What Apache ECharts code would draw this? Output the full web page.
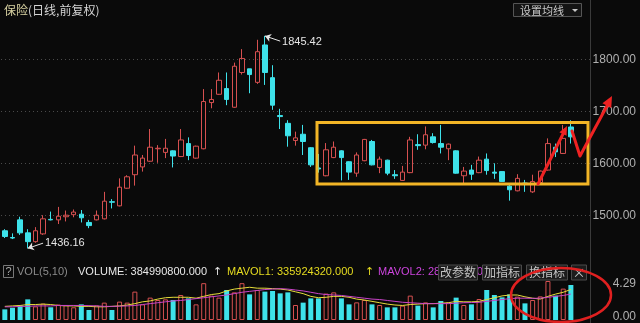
<!DOCTYPE html>
<html><head><meta charset="utf-8">
<script src="https://cdn.jsdelivr.net/npm/echarts@6/dist/echarts.min.js"></script>
<style>html,body{margin:0;padding:0;background:#0a0a0a}#c{width:640px;height:323px}</style>
</head><body><div id="c"></div>
<script>
// ---- data ----
const categories = Array.from({length: 77}, (_, i) => 'D' + (i + 1));
const opens  = [1470,1457,1491,1466,1449,1464,1492,1491,1497,1501,1502,1486,1491,1493,1526,1518,1552,1578,1593,1604,1628,1621,1624,1613,1638,1610,1628,1717,1733,1744,1708,1775,1782,1756,1828,1765,1692,1677,1644,1656,1630,1591,1576,1611,1624,1603,1581,1605,1642,1592,1606,1578,1567,1582,1636,1635,1651,1638,1628,1624,1576,1587,1582,1608,1583,1584,1556,1547,1562,1545,1563,1587,1631,1619,1670];
const closes = [1459,1456,1466,1449,1470,1493,1491,1498,1500,1506,1495,1480,1500,1527,1525,1554,1574,1616,1610,1631,1629,1629,1614,1645,1615,1633,1719,1723,1760,1723,1787,1802,1771,1815,1775,1712,1690,1653,1649,1642,1597,1589,1626,1631,1611,1583,1616,1646,1597,1608,1581,1576,1583,1645,1634,1655,1640,1631,1637,1581,1585,1579,1606,1586,1581,1565,1549,1571,1561,1565,1585,1638,1622,1648,1651];
const lows   = [1456,1454,1462,1436.16,1447,1462,1490,1483,1488,1496,1486,1475,1490,1492,1513,1517,1551,1557,1584,1603,1601,1610,1592,1612,1606,1609,1627,1706,1732,1712,1707,1771,1735,1753,1751,1703,1666,1632,1634,1616,1593,1582,1575,1610,1567,1568,1574,1604,1596,1581,1577,1570,1566,1581,1626,1627,1638,1619,1606,1580,1560,1568,1581,1578,1570,1564,1528,1546,1545,1543,1562,1586,1612,1618,1638];
const highs  = [1473,1465,1497,1473,1477,1500,1507,1516,1509,1511,1510,1491,1509,1545,1531,1571,1577,1634,1616,1666,1635,1647,1625,1666,1650,1634,1743,1743,1775,1775,1794,1820,1782,1838,1845.42,1789,1705,1683,1661,1674,1631,1618,1639,1642,1625,1604,1621,1647,1645,1613,1607,1587,1595,1651,1656,1671,1658,1674,1638,1625,1593,1597,1613,1619,1600,1585,1558,1579,1568,1578,1586,1648,1638,1674,1683];
// volume in 1e8 shares
const volumes = [1.17,1.35,1.6,2.27,1.5,1.8,1.4,1.7,1.65,1.4,1.72,1.1,1.6,1.91,1.1,2.02,1.91,3.12,1.72,2.46,2.2,2.27,2.2,2.75,2.38,1.72,4.05,2.68,2.46,3.3,3.04,4.05,2.82,3.3,3.12,3.19,2.93,3.04,1.65,1.91,2.38,2.38,2.9,3.04,2.38,1.72,1.94,2.2,1.72,1.65,1.39,1.39,1.58,2.68,1.58,1.94,1.39,2.09,1.94,2.46,1.65,1.72,2.31,3.3,2.75,2.49,2.82,2.57,1.83,2.2,2.6,4.29,2.68,3.45,3.85];
const mavol1 = [1.5,1.55,1.6,1.7,1.7,1.75,1.7,1.6,1.55,1.55,1.5,1.5,1.45,1.45,1.5,1.55,1.65,1.8,2.0,2.1,2.3,2.45,2.5,2.5,2.5,2.4,2.6,2.8,2.9,3.2,3.4,3.5,3.6,3.5,3.5,3.45,3.4,3.3,3.1,2.9,2.6,2.45,2.5,2.6,2.6,2.5,2.3,2.2,2.05,1.9,1.75,1.65,1.6,1.7,1.75,1.8,1.8,1.85,1.9,2.05,2.0,2.0,2.05,2.25,2.45,2.65,2.75,2.75,2.55,2.4,2.3,2.6,2.85,3.05,3.36];
const mavol2 = [1.45,1.45,1.5,1.5,1.55,1.55,1.55,1.6,1.6,1.6,1.6,1.58,1.55,1.5,1.5,1.52,1.55,1.6,1.7,1.8,1.9,2.0,2.1,2.15,2.25,2.35,2.45,2.55,2.65,2.75,2.9,3.05,3.15,3.25,3.35,3.4,3.45,3.4,3.3,3.2,3.05,2.9,2.8,2.75,2.7,2.6,2.5,2.4,2.3,2.25,2.15,2.05,1.95,1.9,1.85,1.8,1.8,1.8,1.8,1.85,1.9,1.92,1.95,2.05,2.15,2.25,2.35,2.4,2.4,2.38,2.4,2.5,2.6,2.7,2.85];
const priceTicks = {min: 1400, max: 1900, step: 100};
const volTicks = {min: 0, max: 4.29};
const highIdx = 34, lowIdx = 3;

// ---- styles ----
const BG = '#0a0a0a', RED = '#d65050', CYAN = '#3ee2ea';
const LATIN = '"Liberation Sans", Arial, sans-serif';
const CJK = '"Noto Sans CJK SC", "Liberation Sans", sans-serif';

const kData = opens.map((o, i) => [o, closes[i], lows[i], highs[i]]);
const volData = volumes.map((v, i) => ({
  value: v,
  itemStyle: closes[i] >= opens[i]
    ? {color: 'transparent', borderColor: RED, borderWidth: 1}
    : {color: CYAN}
}));

function arrowHead(tip, from, len, w) {
  const dx = tip[0] - from[0], dy = tip[1] - from[1];
  const L = Math.hypot(dx, dy), ux = dx / L, uy = dy / L;
  const bx = tip[0] - ux * len, by = tip[1] - uy * len;
  return [tip, [bx - uy * w, by + ux * w], [bx + uy * w, by - ux * w]];
}
function btn(x, w, label, fs) {
  return [
    {type: 'rect', shape: {x: x, y: 265, width: w, height: 15}, style: {fill: '#1c1c1c', stroke: '#4a4a4a', lineWidth: 1}, z: 20},
    {type: 'text', x: x + w / 2, y: 272.5, style: {text: label, fill: '#c4c4c4', font: fs + 'px ' + CJK, align: 'center', verticalAlign: 'middle'}, z: 21}
  ];
}

const chart = echarts.init(document.getElementById('c'), null, {renderer: 'canvas'});
chart.setOption({
  backgroundColor: BG,
  animation: false,
  grid: [
    {left: 1, right: 50, top: 7.6, height: 259.5},
    {left: 1, right: 50, top: 281, height: 39}
  ],
  xAxis: [
    {type: 'category', data: categories, gridIndex: 0, show: false, boundaryGap: true},
    {type: 'category', data: categories, gridIndex: 1, show: false, boundaryGap: true}
  ],
  yAxis: [
    {type: 'value', gridIndex: 0, position: 'right', min: priceTicks.min, max: priceTicks.max, interval: priceTicks.step,
     axisLine: {show: true, lineStyle: {color: '#3a3a3a'}}, axisTick: {show: false},
     axisLabel: {color: '#b0b0b0', fontSize: 12, fontFamily: LATIN, align: 'right', margin: 46,
                 showMinLabel: false, showMaxLabel: false, formatter: v => v.toFixed(2)},
     splitLine: {show: true, showMinLine: false, showMaxLine: false, lineStyle: {color: '#4a4a4a', type: [1, 3], width: 1}}},
    {type: 'value', gridIndex: 1, position: 'right', min: volTicks.min, max: volTicks.max, interval: volTicks.max,
     axisLine: {show: true, lineStyle: {color: '#3a3a3a'}}, axisTick: {show: false}, splitLine: {show: false},
     axisLabel: {color: '#b0b0b0', fontSize: 12, fontFamily: LATIN, align: 'right', margin: 46,
                 formatter: v => (v === 0 ? '{b|' : '{t|') + v.toFixed(2) + '}',
                 rich: {b: {padding: [0, 0, 6, 0], color: '#b0b0b0', fontSize: 12, fontFamily: LATIN},
                        t: {padding: [6, 0, 0, 0], color: '#b0b0b0', fontSize: 12, fontFamily: LATIN}}}}
  ],
  series: [
    {type: 'candlestick', xAxisIndex: 0, yAxisIndex: 0, data: kData, barWidth: 5,
     itemStyle: {color: 'transparent', color0: CYAN, borderColor: RED, borderColor0: CYAN, borderWidth: 1},
     markLine: {
       silent: true, symbol: ['arrow', 'none'], symbolSize: 6, animation: false,
       lineStyle: {color: '#e6e6e6', width: 1, type: 'solid'},
       label: {show: true, position: 'end', distance: 2, formatter: '{b}', color: '#e6e6e6', fontSize: 11, fontFamily: LATIN},
       data: [
         [{name: highs[highIdx].toFixed(2), coord: [highIdx, highs[highIdx]]}, {coord: [highIdx + 2, highs[highIdx] - 10]}],
         [{name: lows[lowIdx].toFixed(2), coord: [lowIdx, lows[lowIdx]]}, {coord: [lowIdx + 2, lows[lowIdx] + 10]}]
       ]
     }},
    {type: 'bar', xAxisIndex: 1, yAxisIndex: 1, data: volData, barWidth: 5},
    {type: 'line', xAxisIndex: 1, yAxisIndex: 1, data: mavol1, symbol: 'none', lineStyle: {color: '#e6dc3a', width: 1}, z: 5},
    {type: 'line', xAxisIndex: 1, yAxisIndex: 1, data: mavol2, symbol: 'none', lineStyle: {color: '#c844c8', width: 1}, z: 5}
  ],
  graphic: [].concat(
    [
      {type: 'line', shape: {x1: 590.5, y1: 0, x2: 590.5, y2: 323}, style: {stroke: '#3a3a3a', lineWidth: 1}, z: 1},
      {type: 'text', x: 4, y: 10, style: {text: '保险', fill: '#d8d2a2', font: '12px ' + CJK, verticalAlign: 'middle'}, z: 10},
      {type: 'text', x: 28, y: 10, style: {text: '(日线,前复权)', fill: '#d4d4d4', font: '12px ' + CJK, verticalAlign: 'middle'}, z: 10},
      {type: 'rect', shape: {x: 513.5, y: 3.5, width: 68, height: 13}, style: {fill: '#141414', stroke: '#555', lineWidth: 1}, z: 10},
      {type: 'text', x: 520, y: 10.5, style: {text: '设置均线', fill: '#c8c8c8', font: '11px ' + CJK, verticalAlign: 'middle'}, z: 11},
      {type: 'polygon', shape: {points: [[572, 9], [578, 9], [575, 12]]}, style: {fill: '#c8c8c8'}, z: 11},
      // volume header
      {type: 'rect', shape: {x: 3.5, y: 265.5, width: 10, height: 12}, style: {fill: 'none', stroke: '#777', lineWidth: 1}, z: 10},
      {type: 'text', x: 8.5, y: 272, style: {text: '?', fill: '#aaa', font: '11px ' + LATIN, align: 'center', verticalAlign: 'middle'}, z: 10},
      {type: 'text', x: 17, y: 272, style: {text: 'VOL(5,10)', fill: '#8c8c8c', font: '11px ' + LATIN, verticalAlign: 'middle'}, z: 10},
      {type: 'text', x: 78, y: 272, style: {text: 'VOLUME: 384990800.000', fill: '#e8e8e8', font: '11px ' + LATIN, verticalAlign: 'middle'}, z: 10},
      {type: 'text', x: 213, y: 272, style: {text: '↑', fill: '#e8e8e8', font: '11px "DejaVu Sans", sans-serif', verticalAlign: 'middle'}, z: 10},
      {type: 'text', x: 227, y: 272, style: {text: 'MAVOL1: 335924320.000', fill: '#e6dc20', font: '11px ' + LATIN, verticalAlign: 'middle'}, z: 10},
      {type: 'text', x: 365, y: 272, style: {text: '↑', fill: '#e6dc20', font: '11px "DejaVu Sans", sans-serif', verticalAlign: 'middle'}, z: 10},
      {type: 'text', x: 378, y: 272, style: {text: 'MAVOL2: 285364900.000', fill: '#cc44dd', font: '11px ' + LATIN, verticalAlign: 'middle'}, z: 10}
    ],
    btn(438.5, 39, '改参数', 12), btn(482.5, 39, '加指标', 12), btn(526.5, 41, '换指标', 12), btn(571.5, 15, '×', 13),
    [
      // yellow box
      {type: 'rect', shape: {x: 317, y: 122.5, width: 271, height: 61.5}, style: {fill: 'none', stroke: '#f2b526', lineWidth: 3}, z: 30},
      // red arrow strokes
      {type: 'polyline', shape: {points: [[538, 184], [565, 130]]}, style: {stroke: '#ee2222', lineWidth: 3, lineCap: 'round', lineJoin: 'round'}, z: 31},
      {type: 'polygon', shape: {points: arrowHead([567, 126], [538, 184], 9, 4)}, style: {fill: '#ee2222'}, z: 31},
      {type: 'polyline', shape: {points: [[572, 131], [580, 156], [608, 104]]}, style: {stroke: '#ee2222', lineWidth: 3, lineCap: 'round', lineJoin: 'round'}, z: 31},
      {type: 'polygon', shape: {points: arrowHead([612, 96], [580, 156], 11, 5)}, style: {fill: '#ee2222'}, z: 31},
      // red ellipse
      {type: 'ellipse', shape: {cx: 561, cy: 295, rx: 50, ry: 27}, style: {fill: 'none', stroke: '#e02020', lineWidth: 2.5}, z: 31}
    ]
  )
});
</script></body></html>
